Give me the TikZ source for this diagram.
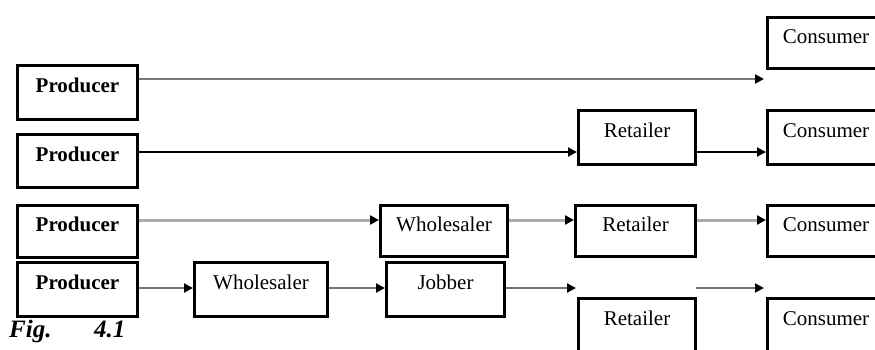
\documentclass[tikz,border=0pt]{standalone}
\usepackage{fontspec}
\setmainfont{Liberation Serif}
\usetikzlibrary{arrows.meta}

\tikzset{
  box/.style={draw, line width=2.7pt, inner sep=0pt, text height=8pt, text depth=8pt,
    font=\fontsize{21}{21}\selectfont},
  prod/.style={box, font=\fontsize{21}{21}\selectfont\bfseries},
  flow/.style={line width=2pt, -{Triangle[length=9pt,width=9pt,color=black]}},
}

\begin{document}
\begin{tikzpicture}[x=1pt, y=-1pt]
\useasboundingbox (0,0) rectangle (875,349);
\clip (0,0) rectangle (875,349);

% channel rows: heights of the connecting lines
\coordinate (y1) at (0,79);
\coordinate (y2) at (0,152);
\coordinate (y3) at (0,220);
\coordinate (y4) at (0,288);

% row 1: producer -> consumer
\node[prod, minimum width=120.3pt, minimum height=54.3pt] (P1) at (77.5,92.5) {Producer};
\node[box, minimum width=117.3pt, minimum height=51.3pt] (C1) at (826,43) {Consumer};
\coordinate (e1) at (764,79);

% row 2: producer -> retailer -> consumer
\node[prod, minimum width=120.3pt, minimum height=53.3pt] (P2) at (77.5,161) {Producer};
\node[box, minimum width=117.3pt, minimum height=54.3pt] (R2) at (637,137.5) {Retailer};
\node[box, minimum width=117.3pt, minimum height=54.3pt] (C2) at (826,137.5) {Consumer};

% row 3: producer -> wholesaler -> retailer -> consumer
\node[prod, minimum width=120.3pt, minimum height=52.3pt] (P3) at (77.5,231.5) {Producer};
\node[box, minimum width=127.3pt, minimum height=51.3pt] (W3) at (444,231) {Wholesaler};
\node[box, minimum width=120.3pt, minimum height=51.3pt] (R3) at (635.5,231) {Retailer};
\node[box, minimum width=117.3pt, minimum height=51.3pt] (C3) at (826,231) {Consumer};

% row 4: producer -> wholesaler -> jobber -> retailer -> consumer
\node[prod, minimum width=120.3pt, minimum height=54.3pt] (P4) at (77.5,289.5) {Producer};
\node[box, minimum width=133.3pt, minimum height=54.3pt] (W4) at (261,289.5) {Wholesaler};
\node[box, minimum width=118.3pt, minimum height=54.3pt] (J4) at (445.5,289.5) {Jobber};
\node[box, minimum width=117.3pt, minimum height=54.3pt] (R4) at (637,325.5) {Retailer};
\node[box, minimum width=117.3pt, minimum height=54.3pt] (C4) at (826,325.5) {Consumer};
\coordinate (e4a) at (576,288);
\coordinate (s4b) at (696,288);
\coordinate (e4b) at (764,288);

% connectors
\draw[flow, line width=2.5pt, black!52] (P1.east |- y1) -- (e1);

\draw[flow, black] (P2.east |- y2) -- (R2.west |- y2);
\draw[flow, black] (R2.east |- y2) -- (C2.west |- y2);

\draw[flow, line width=3pt, black!33] (P3.east |- y3) -- (W3.west |- y3);
\draw[flow, line width=3pt, black!33] (W3.east |- y3) -- (R3.west |- y3);
\draw[flow, line width=3pt, black!33] (R3.east |- y3) -- (C3.west |- y3);

\draw[flow, black!55] (P4.east |- y4) -- (W4.west |- y4);
\draw[flow, black!55] (W4.east |- y4) -- (J4.west |- y4);
\draw[flow, black!55] (J4.east |- y4) -- (e4a);
\draw[flow, black!55] (s4b) -- (e4b);

% caption
\node[anchor=base west, inner sep=0pt, font=\fontsize{25}{25}\selectfont\bfseries\itshape] (fig) at (9,337) {Fig.};
\node[anchor=base west, inner sep=0pt, font=\fontsize{25}{25}\selectfont\bfseries\itshape] (num) at (94,337) {4.1};
\end{tikzpicture}
\end{document}
